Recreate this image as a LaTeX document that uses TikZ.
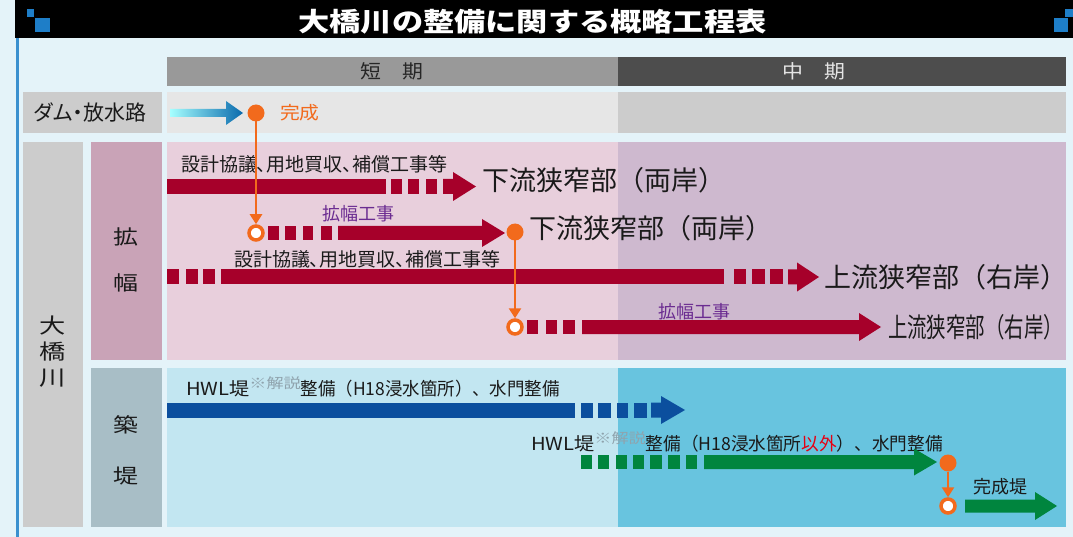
\documentclass[tikz,border=0pt]{standalone}
\usepackage{fontspec}
\setmainfont{Noto Sans CJK JP}
\usepackage{graphicx}
\usetikzlibrary{arrows.meta}
\definecolor{bg}{HTML}{E4F3F9}
\definecolor{iconblue}{HTML}{1E7EC8}
\definecolor{borderblue}{HTML}{3A90CF}
\definecolor{hdrL}{HTML}{999999}
\definecolor{hdrR}{HTML}{4D4D4D}
\definecolor{damL}{HTML}{E6E6E6}
\definecolor{damR}{HTML}{CCCCCC}
\definecolor{graylab}{HTML}{CCCCCC}
\definecolor{kakuLab}{HTML}{C9A3B7}
\definecolor{kakuL}{HTML}{E8CFDC}
\definecolor{kakuR}{HTML}{CEB9CF}
\definecolor{chikuLab}{HTML}{A8BEC6}
\definecolor{chikuL}{HTML}{C2E6F1}
\definecolor{chikuR}{HTML}{68C4DF}
\definecolor{barred}{HTML}{A6002A}
\definecolor{orng}{HTML}{F26A1C}
\definecolor{purp}{HTML}{6B2C91}
\definecolor{barblue}{HTML}{0B4F9E}
\definecolor{bargreen}{HTML}{00853E}
\definecolor{notegray}{HTML}{8FA3AD}
\definecolor{txt}{HTML}{1A1A1A}
\definecolor{redtxt}{HTML}{E60012}
\newcommand\fsz[1]{\fontsize{#1}{#1}\selectfont}
\newcommand\sx[2]{\scalebox{#1}[1]{#2}}
\newcommand\palt{\addfontfeature{RawFeature=+palt}}
\newcommand\note{\raisebox{7pt}{\sx{1.22}{\fsz{14}\textcolor{notegray}{※解説}}}}
% arrow: x0, head base, tip, y, half thickness, half head, colour
\newcommand\harrow[7]{\fill[#7] ({#1},{#4-#5}) -- ({#2},{#4-#5}) -- ({#2},{#4-#6}) -- ({#3},{#4}) -- ({#2},{#4+#6}) -- ({#2},{#4+#5}) -- ({#1},{#4+#5}) -- cycle;}
% dash: x0, x1, y, half thickness, colour
\newcommand\dseg[5]{\fill[#5] ({#1},{#3-#4}) rectangle ({#2},{#3+#4});}
\begin{document}
\begin{tikzpicture}[x=1pt,y=-1pt,
  every node/.style={inner sep=0pt,outer sep=0pt},
  dot/.style={circle,fill=orng,minimum size=17pt},
  ring/.style={circle,draw=orng,line width=3.5pt,fill=white,minimum size=14pt,outer sep=1.75pt},
  oline/.style={draw=orng,line width=2.5pt,-{Triangle[width=12pt,length=10pt]}},
  small/.style={font=\fsz{18},text=txt},
  big/.style={font=\fsz{27},text=txt},
  lab/.style={font=\fsz{20},text=txt}]
\useasboundingbox (0,0) rectangle (1073,537);
\fill[bg] (0,0) rectangle (1073,537);
% title bar
\fill[black] (15,0) rectangle (1073,38);
\fill[borderblue] (16,38) rectangle (18.5,537);
\fill[iconblue] (27,9) rectangle (34,17);
\fill[iconblue] (35,18) rectangle (50,32);
\fill[iconblue] (1054,18) rectangle (1068,32);
\fill[iconblue] (1065,9) rectangle (1073,17);
\node[font=\fsz{26}\bfseries,text=white] (title) at (532.5,21.5) {\sx{1.2}{大橋川の整備に関する概略工程表}};
% headers
\fill[hdrL] (167,57) rectangle (618,86);
\fill[hdrR] (618,57) rectangle (1066,86);
\node[font=\fsz{19},text=black!85] (tanki) at (392,71.5) {\sx{1.1}{短　期}};
\node[font=\fsz{19},text=white!90!black] (chuki) at (814,71.5) {\sx{1.1}{中　期}};
% dam row
\fill[graylab] (23,92) rectangle (162,133);
\fill[damL] (167,92) rectangle (618,133);
\fill[damR] (618,92) rectangle (1066,133);
\node[font=\fsz{21}\palt,text=txt] (damlab) at (90,112.5) {ダム・放水路};
% big labels
\fill[graylab] (23,142) rectangle (83,527);
\node[lab,align=center,font=\fsz{21}] (ohashi) at (53,352) {\sx{1.25}{大}\\[5pt]\sx{1.25}{橋}\\[5pt]\sx{1.25}{川}};
\fill[kakuLab] (91,142) rectangle (162,360);
\fill[kakuL] (167,142) rectangle (618,360);
\fill[kakuR] (618,142) rectangle (1066,360);
\node[lab] (kaku1) at (126,237) {\sx{1.25}{拡}};
\node[lab] (kaku2) at (126,283) {\sx{1.25}{幅}};
\fill[chikuLab] (91,368) rectangle (162,527);
\fill[chikuL] (167,368) rectangle (618,527);
\fill[chikuR] (618,368) rectangle (1066,527);
\node[lab] (chiku1) at (126,425) {\sx{1.25}{築}};
\node[lab] (chiku2) at (126,476) {\sx{1.25}{堤}};
% dam arrow
\shade[left color=cyan!35!white,right color=barblue!85!cyan] (170,109) -- (226,109) -- (226,101) -- (243,113) -- (226,125) -- (226,117) -- (170,117) -- cycle;
\node[dot] (d1) at (256,113) {};
\node[font=\fsz{18},text=orng,anchor=west] (kansei) at (280,113) {\sx{1.1}{完成}};
% row 1
\node[font=\fsz{19}\palt,text=txt] (t1) at (314,164.5) {設計協議、用地買収、補償工事等};
\dseg{167}{386}{186.5}{7.5}{barred}
\dseg{391}{402}{186.5}{7.5}{barred}
\dseg{408}{419}{186.5}{7.5}{barred}
\dseg{426}{437}{186.5}{7.5}{barred}
\harrow{443}{453}{476}{186.5}{7.5}{14.5}{barred}
\node[big,anchor=west] (e1) at (482,180) {下流狭窄部（両岸）};
% row 2
\node[ring] (r1) at (256,233) {};
\dseg{268}{279}{233}{7}{barred}
\dseg{285}{296}{233}{7}{barred}
\dseg{303}{313}{233}{7}{barred}
\dseg{321}{332}{233}{7}{barred}
\harrow{338}{482}{505}{233}{7}{14}{barred}
\node[font=\fsz{18},text=purp] (w1) at (358,214) {拡幅工事};
\node[dot] (d2) at (515,232) {};
\node[big,anchor=west] (e2) at (529,228) {下流狭窄部（両岸）};
% row 3
\node[font=\fsz{19}\palt,text=txt] (t2) at (367,259) {設計協議、用地買収、補償工事等};
\dseg{167}{179}{277}{7.5}{barred}
\dseg{186}{198}{277}{7.5}{barred}
\dseg{203}{215}{277}{7.5}{barred}
\dseg{221}{724}{277}{7.5}{barred}
\dseg{734}{746}{277}{7.5}{barred}
\dseg{752}{765}{277}{7.5}{barred}
\dseg{770}{783}{277}{7.5}{barred}
\harrow{788}{797}{819}{277}{7.5}{14.5}{barred}
\node[big,anchor=west] (e3) at (824,277) {上流狭窄部（右岸）};
% row 4
\node[ring] (r2) at (515,327) {};
\dseg{527}{538}{327}{7}{barred}
\dseg{546}{557}{327}{7}{barred}
\dseg{563}{575}{327}{7}{barred}
\harrow{582}{859}{881}{327}{7}{14}{barred}
\node[font=\fsz{18},text=purp] (w2) at (694,312) {拡幅工事};
\node[big,anchor=west] (e4) at (888,327) {\sx{0.72}{上流狭窄部（右岸）}};
% blue row
\node[small,anchor=west] (b1) at (186,387) {\sx{1.12}{HWL堤}\note\sx{0.97}{整備（H18浸水箇所）、水門整備}};
\dseg{167}{575}{410}{7.5}{barblue}
\dseg{581}{593}{410}{7.5}{barblue}
\dseg{598}{611}{410}{7.5}{barblue}
\dseg{617}{628}{410}{7.5}{barblue}
\dseg{634}{647}{410}{7.5}{barblue}
\harrow{651}{661}{685}{410}{7.5}{14}{barblue}
% green row
\node[small,anchor=west] (g1) at (531,442) {\sx{1.12}{HWL堤}\note\sx{0.98}{整備（H18浸水箇所\textcolor{redtxt}{以外}）、水門整備}};
\dseg{581}{592}{462}{7}{bargreen}
\dseg{598}{609}{462}{7}{bargreen}
\dseg{616}{627}{462}{7}{bargreen}
\dseg{633}{644}{462}{7}{bargreen}
\dseg{650}{662}{462}{7}{bargreen}
\dseg{668}{680}{462}{7}{bargreen}
\dseg{686}{697}{462}{7}{bargreen}
\harrow{704}{914}{937}{462}{7}{13.5}{bargreen}
\node[dot] (d3) at (948,463) {};
\node[ring] (r3) at (948,506) {};
\harrow{965}{1035}{1057}{506}{6.5}{14}{bargreen}
\node[small] (k2) at (1000,487) {完成堤};
% connectors
\draw[oline] (d1) -- (r1);
\draw[oline] (d2) -- (r2);
\draw[oline] (d3) -- (r3);
\end{tikzpicture}
\end{document}
